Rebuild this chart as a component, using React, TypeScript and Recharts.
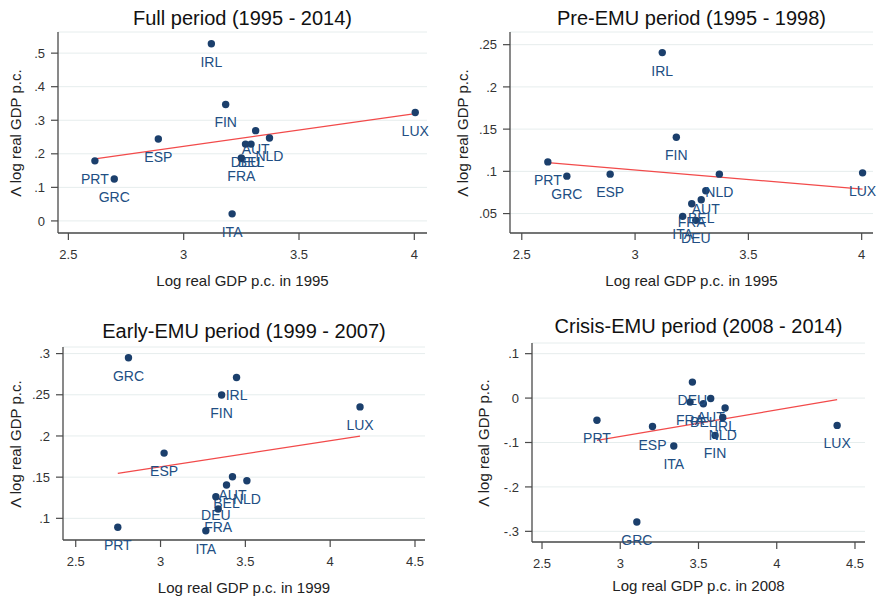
import React from 'react';
import { ComposedChart, Scatter, XAxis, YAxis, CartesianGrid, ReferenceLine } from 'recharts';

// ---------- data ----------
const countries = ["AUT", "BEL", "DEU", "ESP", "FIN", "FRA", "GRC", "IRL", "ITA", "LUX", "NLD", "PRT"];

// log real GDP p.c. in 1995 (used by Full and Pre-EMU panels)
const gdp1995 = [3.312, 3.292, 3.268, 2.890, 3.182, 3.250, 2.699, 3.120, 3.210, 4.004, 3.372, 2.615];
const growthFull = [0.269, 0.229, 0.229, 0.244, 0.347, 0.1875, 0.125, 0.528, 0.021, 0.323, 0.247, 0.179];
const growthPre = [0.077, 0.0664, 0.042, 0.0967, 0.1403, 0.0617, 0.0943, 0.2406, 0.0467, 0.0982, 0.0967, 0.1112];

const gdp1999 = [3.424, 3.389, 3.326, 3.021, 3.360, 3.340, 2.811, 3.448, 3.267, 4.176, 3.509, 2.748];
const growthEarly = [0.1504, 0.1405, 0.1262, 0.1792, 0.2498, 0.1113, 0.295, 0.271, 0.085, 0.2353, 0.1456, 0.0891];

const gdp2008 = [3.578, 3.531, 3.461, 3.206, 3.606, 3.446, 3.106, 3.670, 3.342, 4.386, 3.655, 2.851];
const growthCrisis = [-0.001, -0.0126, 0.036, -0.064, -0.084, -0.009, -0.279, -0.0225, -0.108, -0.0615, -0.0435, -0.05];

// fitted-line endpoints: [x1, y1, x2, y2]
const fitFull = [2.615, 0.185, 4.004, 0.320];
const fitPre = [2.615, 0.1104, 4.004, 0.079];
const fitEarly = [2.748, 0.1545, 4.176, 0.1998];
const fitCrisis = [2.851, -0.0953, 4.386, -0.0036];

const titles = [
  "Full period (1995 - 2014)",
  "Pre-EMU period (1995 - 1998)",
  "Early-EMU period (1999 - 2007)",
  "Crisis-EMU period (2008 - 2014)",
];
const xTitles = [
  "Log real GDP p.c. in 1995",
  "Log real GDP p.c. in 1995",
  "Log real GDP p.c. in 1999",
  "Log real GDP p.c. in 2008",
];
const yTitle = "Λ log real GDP p.c.";

const xTicksA = [2.5, 3, 3.5, 4];
const xTickLabelsA = ["2.5", "3", "3.5", "4"];
const xTicksB = [2.5, 3, 3.5, 4, 4.5];
const xTickLabelsB = ["2.5", "3", "3.5", "4", "4.5"];

const yTicksFull = [0, 0.1, 0.2, 0.3, 0.4, 0.5];
const yLabelsFull = ["0", ".1", ".2", ".3", ".4", ".5"];
const yTicksPre = [0.05, 0.1, 0.15, 0.2, 0.25];
const yLabelsPre = [".05", ".1", ".15", ".2", ".25"];
const yTicksEarly = [0.1, 0.15, 0.2, 0.25, 0.3];
const yLabelsEarly = [".1", ".15", ".2", ".25", ".3"];
const yTicksCrisis = [-0.3, -0.2, -0.1, 0, 0.1];
const yLabelsCrisis = ["-.3", "-.2", "-.1", "0", ".1"];

// ---------- styles ----------
const FONT = '"Liberation Sans", Arial, Helvetica, sans-serif';
const DOT = '#1b3f6c';
const LAB = '#214e83';
const AXIS = '#4a4a4a';
const GRID = '#e6eded';
const FIT = '#f24a4a';

const build = (xs: number[], ys: number[]) => countries.map((name, i) => ({ name, x: xs[i], y: ys[i] }));

const LabeledDot = (props: any) => {
  const { cx, cy, payload } = props;
  if (cx == null || cy == null) return null;
  return (
    <g>
      <circle cx={cx} cy={cy} r={3.7} fill={DOT} />
      <text x={cx} y={cy + 23} textAnchor="middle" fontSize={14} fontFamily={FONT} fill={LAB}>
        {payload.name}
      </text>
    </g>
  );
};

type PanelProps = {
  left: number; top: number; w: number; h: number;
  plotL: number; plotR: number; plotT: number; plotB: number;
  xDomain: [number, number]; yDomain: [number, number];
  xTicks: number[]; xLabels: string[]; yTicks: number[]; yLabels: string[];
  data: { name: string; x: number; y: number }[];
  fit: number[];
  title: string; titleY: number; xTitle: string; xTitleY: number; yTitleX: number;
};

const Panel = (p: PanelProps) => {
  const xFmt = (v: number) => { const i = p.xTicks.findIndex((t) => Math.abs(t - v) < 1e-9); return i >= 0 ? p.xLabels[i] : String(v); };
  const yFmt = (v: number) => {
    const i = p.yTicks.findIndex((t) => Math.abs(t - v) < 1e-9);
    return i >= 0 ? p.yLabels[i] : String(v);
  };
  const xAxisH = 30;
  const cxPlot = p.left + (p.plotL + p.plotR) / 2;
  const cyPlot = p.top + (p.plotT + p.plotB) / 2;
  return (
    <>
      <div style={{ position: 'absolute', left: p.left, top: p.top, width: p.w, height: p.h }}>
        <ComposedChart
          width={p.w}
          height={p.h}
          margin={{ top: p.plotT, right: p.w - p.plotR, left: 0, bottom: p.h - p.plotB - xAxisH }}
        >
          <CartesianGrid vertical={false} stroke={GRID} strokeWidth={1} />
          <XAxis
            type="number"
            dataKey="x"
            domain={p.xDomain}
            ticks={p.xTicks}
            tickFormatter={xFmt}
            height={xAxisH}
            tickSize={7}
            tickMargin={10}
            axisLine={{ stroke: AXIS, strokeWidth: 1.3 }}
            tickLine={{ stroke: AXIS, strokeWidth: 1.2 }}
            tick={{ fill: '#333', fontSize: 13, fontFamily: FONT }}
            interval={0}
          />
          <YAxis
            type="number"
            dataKey="y"
            domain={p.yDomain}
            ticks={p.yTicks}
            tickFormatter={yFmt}
            width={p.plotL}
            tickSize={7}
            tickMargin={6}
            axisLine={{ stroke: AXIS, strokeWidth: 1.3 }}
            tickLine={{ stroke: AXIS, strokeWidth: 1.2 }}
            tick={{ fill: '#333', fontSize: 13, fontFamily: FONT }}
            interval={0}
          />
          <ReferenceLine
            segment={[{ x: p.fit[0], y: p.fit[1] }, { x: p.fit[2], y: p.fit[3] }]}
            stroke={FIT}
            strokeWidth={1.3}
            ifOverflow="visible"
          />
          <Scatter data={p.data} shape={LabeledDot} isAnimationActive={false} />
        </ComposedChart>
      </div>
      <div style={{ position: 'absolute', left: cxPlot, top: p.titleY, transform: 'translate(-50%,-50%)', fontFamily: FONT, fontSize: 20, color: '#111', whiteSpace: 'nowrap', lineHeight: 1 }}>
        {p.title}
      </div>
      <div style={{ position: 'absolute', left: cxPlot, top: p.xTitleY, transform: 'translate(-50%,-50%)', fontFamily: FONT, fontSize: 15, color: '#222', whiteSpace: 'nowrap', lineHeight: 1 }}>
        {p.xTitle}
      </div>
      <div style={{ position: 'absolute', left: p.yTitleX, top: cyPlot, transform: 'translate(-50%,-50%) rotate(-90deg)', fontFamily: FONT, fontSize: 15, color: '#222', whiteSpace: 'nowrap', lineHeight: 1 }}>
        {yTitle}
      </div>
    </>
  );
};

export default function App() {
  return (
    <div style={{ position: 'absolute', left: 0, top: 0, width: 880, height: 597, background: '#fff', overflow: 'hidden' }}>
      <Panel
        left={0} top={0} w={440} h={300}
        plotL={58} plotR={427} plotT={32} plotB={233}
        xDomain={[2.455, 4.055]} yDomain={[-0.036, 0.563]}
        xTicks={xTicksA} xLabels={xTickLabelsA} yTicks={yTicksFull} yLabels={yLabelsFull}
        data={build(gdp1995, growthFull)} fit={fitFull}
        title={titles[0]} titleY={18} xTitle={xTitles[0]} xTitleY={280} yTitleX={15}
      />
      <Panel
        left={440} top={0} w={440} h={300}
        plotL={70} plotR={433} plotT={32} plotB={233}
        xDomain={[2.448, 4.05]} yDomain={[0.027, 0.265]}
        xTicks={xTicksA} xLabels={xTickLabelsA} yTicks={yTicksPre} yLabels={yLabelsPre}
        data={build(gdp1995, growthPre)} fit={fitPre}
        title={titles[1]} titleY={18} xTitle={xTitles[1]} xTitleY={280} yTitleX={462}
      />
      <Panel
        left={0} top={300} w={440} h={297}
        plotL={63} plotR={425} plotT={47} plotB={240}
        xDomain={[2.425, 4.559]} yDomain={[0.0737, 0.308]}
        xTicks={xTicksB} xLabels={xTickLabelsB} yTicks={yTicksEarly} yLabels={yLabelsEarly}
        data={build(gdp1999, growthEarly)} fit={fitEarly}
        title={titles[2]} titleY={331} xTitle={xTitles[2]} xTitleY={587} yTitleX={15}
      />
      <Panel
        left={440} top={300} w={440} h={297}
        plotL={92} plotR={425} plotT={43} plotB={242}
        xDomain={[2.436, 4.564]} yDomain={[-0.324, 0.124]}
        xTicks={xTicksB} xLabels={xTickLabelsB} yTicks={yTicksCrisis} yLabels={yLabelsCrisis}
        data={build(gdp2008, growthCrisis)} fit={fitCrisis}
        title={titles[3]} titleY={326} xTitle={xTitles[3]} xTitleY={585} yTitleX={483}
      />
    </div>
  );
}
